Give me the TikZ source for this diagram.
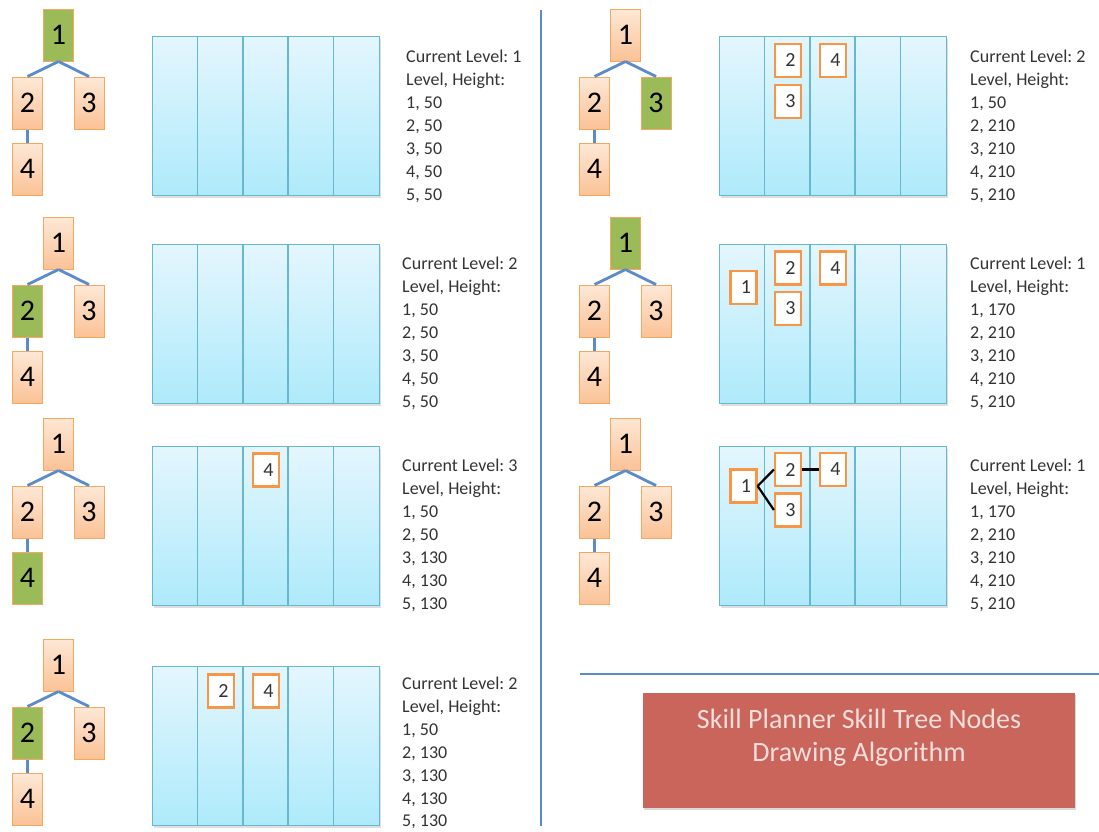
\documentclass[tikz,border=0pt]{standalone}
\usepackage{fontspec}
\setmainfont{Carlito}
\frenchspacing
\usetikzlibrary{calc,shadows}
\definecolor{peachT}{HTML}{FDE8D6}
\definecolor{peachB}{HTML}{FBC296}
\definecolor{peachD}{HTML}{F5A860}
\definecolor{greenF}{HTML}{9BBB59}
\definecolor{linkblue}{HTML}{5B8BC9}
\definecolor{gridT}{HTML}{E4F6FD}
\definecolor{gridB}{HTML}{AEEAFB}
\definecolor{gridD}{HTML}{67B7CE}
\definecolor{boxO}{HTML}{F79646}
\definecolor{redF}{HTML}{C9655B}
\definecolor{redT}{HTML}{F4DEDC}
\definecolor{txt}{HTML}{333333}
\tikzset{
 tbase/.style={draw=peachD, line width=1pt, minimum width=30pt, minimum height=52pt, inner sep=0pt, font=\fontsize{30}{34}\selectfont, text=black},
 tnode/.style={tbase, top color=peachT, bottom color=peachB},
 hnode/.style={tbase, fill=greenF},
 tlink/.style={draw=linkblue, line width=2.8pt},
 gbox/.style={draw=gridD, line width=1.2pt, top color=gridT, bottom color=gridB, minimum width=227pt, minimum height=159pt, inner sep=0pt, drop shadow={shadow xshift=1pt, shadow yshift=-2pt, opacity=0.25}},
 gline/.style={draw=gridD, line width=1.5pt},
 sbox/.style={draw=boxO, line width=2.2pt, fill=white, minimum width=26pt, minimum height=33pt, inner sep=0pt, font=\fontsize{20}{22}\selectfont, text=txt},
 slink/.style={draw=black, line width=2.2pt},
 info/.style={anchor=north west, inner sep=0pt, align=left, font=\fontsize{18}{23}\selectfont, text=txt},
 divider/.style={draw=linkblue, line width=2.5pt},
}
\newcommand\treepanel[4]{%
\begin{scope}[shift={(#2,#3)}, tn0/.style=tnode, tn1/.style=tnode, tn2/.style=tnode, tn3/.style=tnode, tn4/.style=tnode, tn#4/.style=hnode]
 \node[tn1] (#1a) at (58.5,35) {1};
 \node[tn2] (#1b) at (27.5,103) {2};
 \node[tn3] (#1c) at (89,103) {3};
 \node[tn4] (#1d) at (27.5,169) {4};
 \draw[tlink] (#1a.south) -- (#1b.north);
 \draw[tlink] (#1a.south) -- (#1c.north);
 \draw[tlink] (#1b.south) -- (#1d.north);
\end{scope}}
\newcommand\gridpanel[3]{%
 \node[gbox, anchor=north west] (#1) at (#2,#3) {};
 \foreach \k in {1,2,3,4} \draw[gline] ($(#1.north west)+(\k*45.4,0)$) -- ($(#1.south west)+(\k*45.4,0)$);
}
\begin{document}
\begin{tikzpicture}[x=1pt,y=-1pt]
\useasboundingbox (0,0) rectangle (1099,831);
% left column
\treepanel{ta}{0}{0}{1}
\gridpanel{ga}{152}{36}
\node[info] (ia) at (406,50) {Current Level: 1\\Level, Height:\\1, 50\\2, 50\\3, 50\\4, 50\\5, 50};

\treepanel{tb}{0}{208}{2}
\gridpanel{gb}{152}{244}
\node[info] (ib) at (402,257) {Current Level: 2\\Level, Height:\\1, 50\\2, 50\\3, 50\\4, 50\\5, 50};

\treepanel{tc}{0}{409}{4}
\gridpanel{gc}{152}{446}
\node[sbox] (c4) at ($(gc.north west)+(114,24)$) {\hspace*{5pt}4};
\node[info] (ic) at (402,459) {Current Level: 3\\Level, Height:\\1, 50\\2, 50\\3, 130\\4, 130\\5, 130};

\treepanel{td}{0}{630}{2}
\gridpanel{gd}{152}{666}
\node[sbox] (d2) at ($(gd.north west)+(69,25)$) {\hspace*{5pt}2};
\node[sbox] (d4) at ($(gd.north west)+(114,25)$) {\hspace*{5pt}4};
\node[info] (id) at (402,677) {Current Level: 2\\Level, Height:\\1, 50\\2, 130\\3, 130\\4, 130\\[-1pt]5, 130};

% right column
\treepanel{te}{567}{0}{3}
\gridpanel{ge}{719}{36}
\node[sbox] (e2) at ($(ge.north west)+(69,24.5)$) {\hspace*{5pt}2};
\node[sbox] (e3) at ($(ge.north west)+(69,65.5)$) {\hspace*{5pt}3};
\node[sbox] (e4) at ($(ge.north west)+(114,24.5)$) {\hspace*{5pt}4};
\node[info] (ie) at (970,50) {Current Level: 2\\Level, Height:\\1, 50\\2, 210\\3, 210\\4, 210\\5, 210};

\treepanel{tf}{567}{208}{1}
\gridpanel{gf}{719}{244}
\node[sbox] (f1) at ($(gf.north west)+(24.5,43.5)$) {\hspace*{5pt}1};
\node[sbox] (f2) at ($(gf.north west)+(69,24)$) {\hspace*{5pt}2};
\node[sbox] (f3) at ($(gf.north west)+(69,64.5)$) {\hspace*{5pt}3};
\node[sbox] (f4) at ($(gf.north west)+(114,24)$) {\hspace*{5pt}4};
\node[info] (if) at (970,257) {Current Level: 1\\Level, Height:\\1, 170\\2, 210\\3, 210\\4, 210\\5, 210};

\treepanel{tg}{567}{409}{0}
\gridpanel{gg}{719}{446}
\node[sbox] (g1) at ($(gg.north west)+(24.5,40)$) {\hspace*{5pt}1};
\node[sbox] (g2) at ($(gg.north west)+(69,23.5)$) {\hspace*{5pt}2};
\node[sbox] (g3) at ($(gg.north west)+(69,64)$) {\hspace*{5pt}3};
\node[sbox] (g4) at ($(gg.north west)+(114,23.5)$) {\hspace*{5pt}4};
\draw[slink] (g1.east) -- (g2.west);
\draw[slink] (g1.east) -- (g3.west);
\draw[slink] (g2.east) -- (g4.west);
\node[info] (ig) at (970,459) {Current Level: 1\\Level, Height:\\1, 170\\2, 210\\3, 210\\4, 210\\5, 210};

% dividers
\coordinate (vtop) at (541,10);
\coordinate (vbot) at (541,826);
\draw[divider] (vtop) -- (vbot);
\coordinate (hl) at (580,674);
\coordinate (hr) at (1099,674);
\draw[divider] (hl) -- (hr);

% title
\node[fill=redF, minimum width=432pt, minimum height=115pt, inner sep=0pt,
  drop shadow={shadow xshift=1pt, shadow yshift=-2pt, opacity=0.3},
  label={[anchor=north, yshift=-16pt, align=center, inner sep=0pt, text=redT, font=\fontsize{28}{33}\selectfont]north:{Skill Planner Skill Tree Nodes\\Drawing Algorithm}}] (title) at (859,750.5) {};
\end{tikzpicture}
\end{document}
